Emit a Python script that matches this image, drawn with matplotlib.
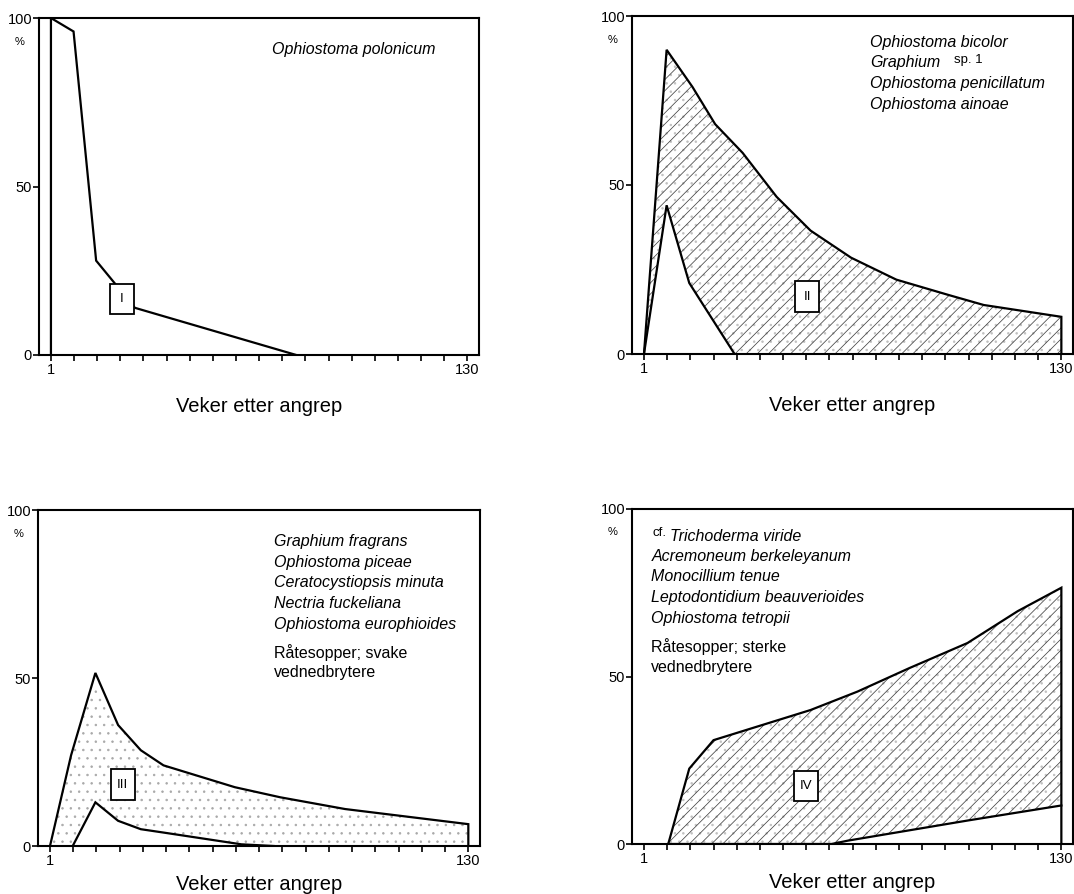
import numpy as np
import matplotlib.pyplot as plt
from matplotlib.patches import Rectangle

plt.rcParams["font.family"] = ["Liberation Sans", "DejaVu Sans"]
plt.rcParams["hatch.linewidth"] = 0.55

# weeks after attack
week_first, week_last = 1, 130
week_ticks = np.linspace(week_first, week_last, 19)

# I - Ophiostoma polonicum
p1_x = [1, 1, 8, 15, 27, 77]
p1_y = [0, 100, 96, 28, 14, 0]

# II - upper and lower bounds of the group
p2_top_x = [1, 8, 16, 23, 31.5, 42, 52.5, 65, 79, 95, 106, 130]
p2_top_y = [0, 90, 79, 68, 59.5, 46.5, 36.5, 28.5, 22, 17.5, 14.5, 11]
p2_low_x = [1, 8, 15, 29]
p2_low_y = [0, 44, 21, 0]

# III
p3_top_x = [1, 7.5, 15, 22, 29, 36, 58, 72, 92, 130]
p3_top_y = [0, 27, 51.5, 36, 28.5, 24, 17.5, 14.5, 11, 6.5]
p3_low_x = [8, 15, 22, 29, 36, 60, 70]
p3_low_y = [0, 13, 7.5, 5, 4, 0.5, 0]

# IV
p4_top_x = [8.5, 15, 22.5, 52.5, 67, 83, 101, 116.5, 130]
p4_top_y = [0, 22.5, 31, 40, 45.5, 52.5, 60, 69.5, 76.5]
p4_low_x = [8.5, 59, 64, 101, 130]
p4_low_y = [0, 0, 1, 7, 11.5]

p1_names = ["Ophiostoma polonicum"]
p2_names = ["Ophiostoma bicolor", "Graphium", "Ophiostoma penicillatum",
            "Ophiostoma ainoae"]
p3_names = ["Graphium fragrans", "Ophiostoma piceae", "Ceratocystiopsis minuta",
            "Nectria fuckeliana", "Ophiostoma europhioides"]
p3_notes = ["Råtesopper; svake", "vednedbrytere"]
p4_names = ["Trichoderma viride", "Acremoneum berkeleyanum", "Monocillium tenue",
            "Leptodontidium beauverioides", "Ophiostoma tetropii"]
p4_notes = ["Råtesopper; sterke", "vednedbrytere"]

W, H = 1074, 894
fig = plt.figure(figsize=(W / 100, H / 100), dpi=100)


def make_axes(left, top, bottom, right):
    ax = fig.add_axes([left / W, 1 - bottom / H, (right - left) / W, (bottom - top) / H])
    ax.set_xlim(-2.7, 133.6)
    ax.set_ylim(0, 100)
    for s in ax.spines.values():
        s.set_linewidth(1.5)
    ax.set_xticks(week_ticks)
    ax.set_xticklabels(["1"] + [""] * (len(week_ticks) - 2) + ["130"])
    ax.set_yticks([0, 50, 100])
    ax.set_yticklabels(["0", "50", "100"])
    ax.tick_params(axis="x", direction="out", length=4, width=1.2, pad=2, labelsize=10.5)
    ax.tick_params(axis="y", direction="out", length=4, width=1.2, pad=1, labelsize=10.5)
    ax.text(-0.045, 0.93, "%", transform=ax.transAxes, ha="center", va="center",
            fontsize=8, clip_on=False)
    return ax


def xlabel(ax, offset):
    ax.text(0.5, -offset / 337, "Veker etter angrep", transform=ax.transAxes,
            ha="center", va="center", fontsize=14.5)


def group_box(ax, x, y, label):
    ax.add_patch(Rectangle((x - 3.7, y - 4.5), 7.4, 9, facecolor="white",
                           edgecolor="black", lw=1.3, zorder=5))
    ax.text(x, y, label, ha="center", va="center", fontsize=9.5, zorder=6)


def name_list(ax, x, y0, names, step=6.15, italic=True):
    for i, n in enumerate(names):
        ax.text(x, y0 - i * step, n, fontsize=11.5, ha="left", va="center",
                style="italic" if italic else "normal")


def shade(ax, xs, ys, dots, lines=None):
    # stippled background with optional diagonal ruling on top
    ax.fill(xs, ys, facecolor="white", edgecolor=dots, hatch="..", lw=0, zorder=1)
    if lines:
        ax.fill(xs, ys, facecolor="none", edgecolor=lines, hatch="///", lw=0, zorder=2)


line_kw = dict(color="black", lw=1.6, solid_joinstyle="miter", zorder=4)

# panel I
ax1 = make_axes(39, 18, 355, 479)
ax1.plot(p1_x, p1_y, **line_kw)
group_box(ax1, 23, 16.7, "I")
name_list(ax1, 69.5, 90.6, p1_names)
xlabel(ax1, 51)

# panel II
ax2 = make_axes(632, 16, 354, 1073)
shade(ax2, p2_top_x + [week_last] + p2_low_x[::-1], p2_top_y + [0] + p2_low_y[::-1],
      "#c0c0c0", "#444444")
ax2.plot(p2_top_x + [week_last], p2_top_y + [0], **line_kw)
ax2.plot(p2_low_x, p2_low_y, **line_kw)
group_box(ax2, 51.5, 17, "II")
name_list(ax2, 71, 92.3, p2_names)
ax2.text(96.8, 86.9, "sp. 1", fontsize=9.5, ha="left", va="center")
xlabel(ax2, 51)

# panel III
ax3 = make_axes(38, 510, 846, 480)
shade(ax3, [week_first] + p3_top_x[1:] + [week_last] + p3_low_x[::-1],
      [0] + p3_top_y[1:] + [0] + p3_low_y[::-1], "#a8a8a8")
ax3.plot(p3_top_x + [week_last], p3_top_y + [0], **line_kw)
ax3.plot(p3_low_x, p3_low_y, **line_kw)
group_box(ax3, 23.4, 18.3, "III")
name_list(ax3, 70.2, 90.6, p3_names)
name_list(ax3, 70.2, 57.7, p3_notes, italic=False)
xlabel(ax3, 39)

# panel IV
ax4 = make_axes(632, 509, 844, 1073)
shade(ax4, p4_top_x + p4_low_x[::-1], p4_top_y + p4_low_y[::-1], "#c0c0c0", "#444444")
ax4.plot(p4_top_x + [week_last], p4_top_y + [0], **line_kw)
ax4.plot(p4_low_x, p4_low_y, **line_kw)
group_box(ax4, 51.1, 17.3, "IV")
ax4.text(3.6, 92.8, "cf.", fontsize=9.5, ha="left", va="center")
name_list(ax4, 8.9, 91.9, p4_names[:1])
name_list(ax4, 3.3, 85.9, p4_names[1:])
name_list(ax4, 3.3, 58.9, p4_notes, italic=False)
xlabel(ax4, 39)

fig.savefig("out.png", dpi=100)
